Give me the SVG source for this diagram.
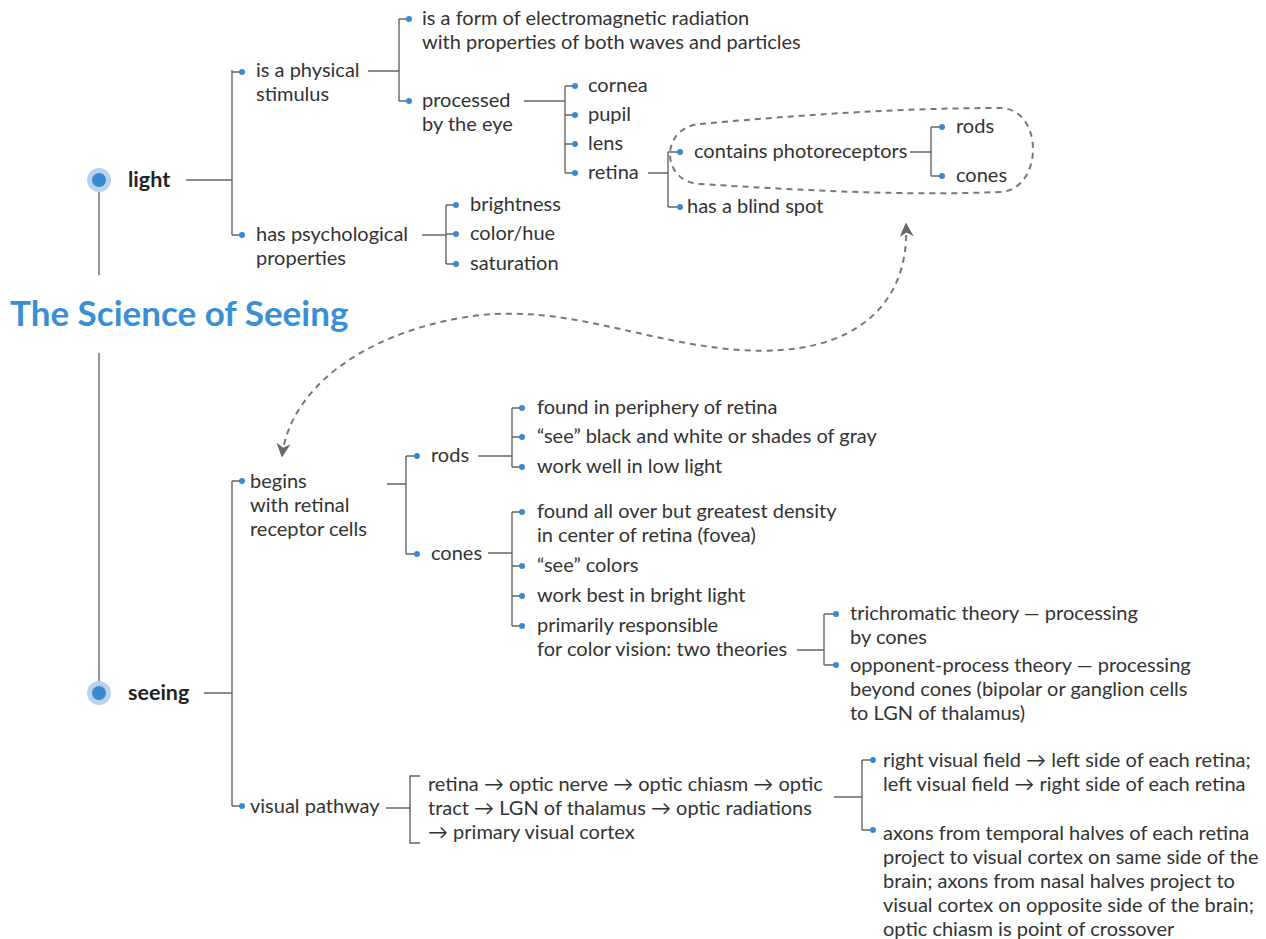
<svg xmlns="http://www.w3.org/2000/svg" width="1266" height="939" viewBox="0 0 1266 939">
<style>
text{font-family:"Lato","Noto Sans","Liberation Sans",sans-serif;font-size:20px;fill:#333}
.b{font-weight:bold;font-size:21.5px;fill:#222}
.t{font-weight:bold;font-size:35px;fill:#3a8fd4}
.ln{fill:none;stroke:#666;stroke-width:1.4}
.dot{fill:#3a8ad0}
.dash{fill:none;stroke:#777;stroke-width:2;stroke-dasharray:6 5}
</style>
<defs>
<marker id="ah" viewBox="0 0 10 10" refX="9" refY="5" markerWidth="7" markerHeight="7" orient="auto-start-reverse" markerUnits="strokeWidth">
<path d="M0,0 L10,5 L0,10 L3,5 Z" fill="#666"/>
</marker>
</defs>
<g id="connectors">
<path class="ln" d="M99,192 V275 M99,353 V681"/>
<path class="ln" d="M186,180 H232 M232,70 V235 M232,72 H240 M232,235 H240"/>
<path class="ln" d="M368,71 H399 M399,19 V101 M399,19 H407 M399,101 H407"/>
<path class="ln" d="M524,101 H565 M565,86 V173 M565,86 H573 M565,115 H573 M565,144 H573 M565,173 H573"/>
<path class="ln" d="M648,173 H668 M668,152 V207 M668,152 H678 M668,207 H678"/>
<path class="ln" d="M910,152 H931 M931,127 V176 M931,127 H940 M931,176 H940"/>
<path class="ln" d="M422,235 H446 M446,205 V264 M446,205 H454 M446,234 H454 M446,264 H454"/>
<path class="ln" d="M204,693 H232 M232,481 V806 M232,481 H240 M232,806 H240"/>
<path class="ln" d="M387,484 H406 M406,456 V554 M406,456 H415 M406,554 H415"/>
<path class="ln" d="M478,456 H512 M512,408 V467 M512,408 H520 M512,437 H520 M512,467 H520"/>
<path class="ln" d="M488,553 H512 M512,512 V626 M512,512 H520 M512,566 H520 M512,596 H520 M512,626 H520"/>
<path class="ln" d="M797,650 H824 M824,614 V665 M824,614 H834 M824,665 H834"/>
<path class="ln" d="M386,808 H410 M420,776 H410 V843 H420"/>
<path class="ln" d="M834,797 H862 M862,760 V830 M862,760 H871 M862,830 H871"/>
<path class="dash" d="M700,124 C800,115 900,108 1000,108 C1044,108 1044,190 1000,192 C900,196 800,190 700,184 C660,182 660,127 700,124 Z"/>
<path class="dash" d="M906,224 C910,300 860,358 740,350 C640,343 560,300 460,318 C360,336 290,390 282,456" marker-start="url(#ah)" marker-end="url(#ah)"/>
</g>
<g id="title"><text class="t" x="10" y="326">The Science of Seeing</text></g>
<g id="light">
<circle cx="99" cy="180" r="12" fill="#b9d2ee"/><circle cx="99" cy="180" r="7" class="dot"/>
<text class="b" x="128" y="187">light</text>
</g>
<g id="seeing">
<circle cx="99" cy="693" r="12" fill="#b9d2ee"/><circle cx="99" cy="693" r="7" class="dot"/>
<text class="b" x="128" y="700">seeing</text>
</g>
<g id="physical"><circle cx="242" cy="72" r="3" class="dot"/><text x="256" y="77">is a physical</text><text x="256" y="101">stimulus</text></g>
<g id="em"><circle cx="409" cy="19" r="3" class="dot"/><text x="422" y="25">is a form of electromagnetic radiation</text><text x="422" y="49">with properties of both waves and particles</text></g>
<g id="processed"><circle cx="409" cy="101" r="3" class="dot"/><text x="422" y="107">processed</text><text x="422" y="131">by the eye</text></g>
<g id="cornea"><circle cx="575" cy="86" r="3" class="dot"/><text x="588" y="92">cornea</text></g>
<g id="pupil"><circle cx="575" cy="115" r="3" class="dot"/><text x="588" y="121">pupil</text></g>
<g id="lens"><circle cx="575" cy="144" r="3" class="dot"/><text x="588" y="150">lens</text></g>
<g id="retina"><circle cx="575" cy="173" r="3" class="dot"/><text x="588" y="179">retina</text></g>
<g id="photoreceptors"><circle cx="680" cy="152" r="3" class="dot"/><text x="694" y="158">contains photoreceptors</text></g>
<g id="blindspot"><circle cx="680" cy="207" r="3" class="dot"/><text x="687" y="213">has a blind spot</text></g>
<g id="rods1"><circle cx="942" cy="127" r="3" class="dot"/><text x="956" y="133">rods</text></g>
<g id="cones1"><circle cx="942" cy="176" r="3" class="dot"/><text x="956" y="182">cones</text></g>
<g id="psych"><circle cx="242" cy="235" r="3" class="dot"/><text x="256" y="241">has psychological</text><text x="256" y="265">properties</text></g>
<g id="brightness"><circle cx="456" cy="205" r="3" class="dot"/><text x="470" y="211">brightness</text></g>
<g id="hue"><circle cx="456" cy="234" r="3" class="dot"/><text x="470" y="240">color/hue</text></g>
<g id="saturation"><circle cx="456" cy="264" r="3" class="dot"/><text x="470" y="270">saturation</text></g>
<g id="begins"><circle cx="242" cy="481" r="3" class="dot"/><text x="250" y="488">begins</text><text x="250" y="512">with retinal</text><text x="250" y="536">receptor cells</text></g>
<g id="rods2"><circle cx="417" cy="456" r="3" class="dot"/><text x="431" y="462">rods</text></g>
<g id="cones2"><circle cx="417" cy="554" r="3" class="dot"/><text x="431" y="560">cones</text></g>
<g id="periphery"><circle cx="522" cy="408" r="3" class="dot"/><text x="537" y="414">found in periphery of retina</text></g>
<g id="bw"><circle cx="522" cy="437" r="3" class="dot"/><text x="537" y="443">“see” black and white or shades of gray</text></g>
<g id="lowlight"><circle cx="522" cy="467" r="3" class="dot"/><text x="537" y="473">work well in low light</text></g>
<g id="fovea"><circle cx="522" cy="512" r="3" class="dot"/><text x="537" y="518">found all over but greatest density</text><text x="537" y="542">in center of retina (fovea)</text></g>
<g id="colors"><circle cx="522" cy="566" r="3" class="dot"/><text x="537" y="572">“see” colors</text></g>
<g id="bright"><circle cx="522" cy="596" r="3" class="dot"/><text x="537" y="602">work best in bright light</text></g>
<g id="colorvision"><circle cx="522" cy="626" r="3" class="dot"/><text x="537" y="632">primarily responsible</text><text x="537" y="656">for color vision: two theories</text></g>
<g id="trichromatic"><circle cx="836" cy="614" r="3" class="dot"/><text x="850" y="620">trichromatic theory — processing</text><text x="850" y="644">by cones</text></g>
<g id="opponent"><circle cx="836" cy="665" r="3" class="dot"/><text x="850" y="672">opponent-process theory — processing</text><text x="850" y="696">beyond cones (bipolar or ganglion cells</text><text x="850" y="720">to LGN of thalamus)</text></g>
<g id="pathway"><circle cx="242" cy="806" r="3" class="dot"/><text x="250" y="813">visual pathway</text></g>
<g id="route"><text x="428" y="791">retina → optic nerve → optic chiasm → optic</text><text x="428" y="815">tract → LGN of thalamus → optic radiations</text><text x="428" y="839">→ primary visual cortex</text></g>
<g id="fields"><circle cx="873" cy="760" r="3" class="dot"/><text x="883" y="767">right visual field → left side of each retina;</text><text x="883" y="791">left visual field → right side of each retina</text></g>
<g id="axons"><circle cx="873" cy="830" r="3" class="dot"/><text x="883" y="840">axons from temporal halves of each retina</text><text x="883" y="864">project to visual cortex on same side of the</text><text x="883" y="888">brain; axons from nasal halves project to</text><text x="883" y="912">visual cortex on opposite side of the brain;</text><text x="883" y="936">optic chiasm is point of crossover</text></g>
</svg>
